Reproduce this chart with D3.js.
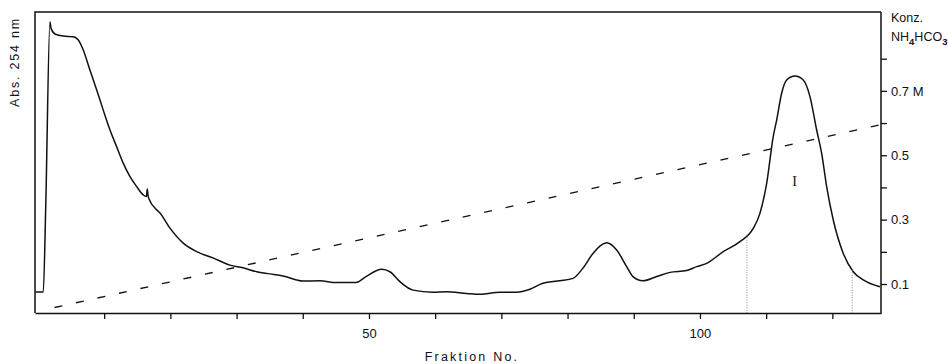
<!DOCTYPE html>
<html>
<head>
<meta charset="utf-8">
<script src="https://cdn.jsdelivr.net/npm/d3@7"></script>
<style>
  body { margin: 0; background: #fff; }
  svg { display: block; font-family: "Liberation Sans", Arial, sans-serif; }
</style>
</head>
<body>
<div id="chart"></div>
<script>
// absorbance trace (fraction no., Abs. 254 nm in arbitrary units)
const fraction = [
  -0.39, 0.80, 1.16, 1.81, 1.96, 2.57, 3.82, 5.33, 6.09, 6.84, 7.85, 8.87, 9.86,
  10.88, 11.89, 12.89, 13.90, 14.91, 15.91, 16.39, 16.51, 16.62, 16.92, 17.67,
  18.43, 19.94, 21.90, 23.97, 26.44, 29.00, 30.97, 33.04, 35.05, 37.01, 40.03,
  42.60, 45.02, 48.04, 49.55, 51.92, 53.17, 54.68, 56.65, 59.67, 61.74, 64.76,
  66.77, 69.79, 72.31, 74.32, 76.28, 78.85, 80.82, 82.33, 83.84, 85.91, 87.42,
  88.93, 89.88, 91.39, 93.46, 95.47, 97.99, 99.50, 101.01, 103.52, 106.04,
  108.05, 109.06, 110.08, 111.07, 111.59, 112.34, 113.10, 114.35, 115.60,
  116.62, 117.63, 118.38, 119.14, 120.14, 121.65, 123.16, 124.67, 127.19
];
const absorbance = [
  0.070, 0.070, 0.342, 0.968, 0.947, 0.927, 0.920, 0.918, 0.907, 0.874, 0.807, 0.741, 0.674,
  0.608, 0.552, 0.497, 0.453, 0.420, 0.392, 0.387, 0.412, 0.392, 0.372, 0.349,
  0.332, 0.282, 0.233, 0.204, 0.183, 0.159, 0.150, 0.137, 0.130, 0.123, 0.106,
  0.107, 0.101, 0.101, 0.121, 0.145, 0.137, 0.104, 0.076, 0.069, 0.071, 0.065,
  0.062, 0.069, 0.069, 0.079, 0.099, 0.107, 0.115, 0.149, 0.198, 0.233, 0.209,
  0.154, 0.121, 0.107, 0.121, 0.135, 0.141, 0.154, 0.165, 0.204, 0.237,
  0.281, 0.331, 0.431, 0.586, 0.641, 0.730, 0.774, 0.787, 0.774,
  0.719, 0.608, 0.531, 0.420, 0.309, 0.198, 0.137, 0.110, 0.087
];

// NH4HCO3 gradient (dashed line)
const gradientFraction = [2.5, 127.3];
const gradientConc = [0.027, 0.595];

// pooled region of peak I
const poolCuts = [107.1, 123.0];
const peakLabel = [{ fraction: 114.3, abs: 0.438, text: "I" }];

const xTicks = [10, 20, 30, 40, 50, 60, 70, 80, 90, 100, 110, 120];
const xLabels = [50, 100];
const concTicks = [0.1, 0.2, 0.3, 0.4, 0.5, 0.6, 0.7, 0.8];
const concLabels = { 0.1: "0.1", 0.3: "0.3", 0.5: "0.5", 0.7: "0.7 M" };

const W = 948, H = 364;
const margin = { top: 12, right: 67, bottom: 51, left: 35 };
const width = W - margin.left - margin.right;
const height = H - margin.top - margin.bottom;

const svg = d3.select("#chart").append("svg")
  .attr("width", W).attr("height", H);
const g = svg.append("g").attr("transform", `translate(${margin.left},${margin.top})`);

const x = d3.scaleLinear().domain([-0.45, 127.35]).range([0, width]);
const yAbs = d3.scaleLinear().domain([0, 1]).range([height, 0]);
const yConc = d3.scaleLinear().domain([0, 0.945]).range([height + 3.2, 0]);

// frame: left and top edges
g.append("path")
  .attr("d", `M0,${height}V0H${width}`)
  .attr("fill", "none").attr("stroke", "#111").attr("stroke-width", 1.5);

// bottom axis
const xAxis = g.append("g")
  .attr("transform", `translate(0,${height})`)
  .call(d3.axisBottom(x).tickValues(xTicks).tickSize(6).tickSizeOuter(0)
    .tickFormat(d => xLabels.includes(d) ? d : ""));
xAxis.select(".domain").attr("stroke", "#111").attr("stroke-width", 1.5);
xAxis.selectAll(".tick line").attr("stroke", "#111").attr("stroke-width", 1.3);
xAxis.selectAll(".tick text").attr("font-size", 13).attr("dy", "1.2em")
  .attr("fill", "#111").attr("font-family", "Liberation Sans, Arial, sans-serif");

// right axis (concentration)
const rAxis = g.append("g")
  .attr("transform", `translate(${width},0)`)
  .call(d3.axisRight(yConc).tickValues(concTicks).tickSize(6).tickSizeOuter(0)
    .tickFormat(d => concLabels[d] || ""));
rAxis.select(".domain").attr("d", `M0,0V${height}`)
  .attr("stroke", "#111").attr("stroke-width", 1.5);
rAxis.selectAll(".tick line").attr("stroke", "#111").attr("stroke-width", 1.3);
rAxis.selectAll(".tick text").attr("font-size", 13).attr("x", 10)
  .attr("fill", "#111").attr("font-family", "Liberation Sans, Arial, sans-serif");

// axis titles
svg.append("text")
  .attr("x", (margin.left + width / 2) + 14).attr("y", H - 3)
  .attr("text-anchor", "middle").attr("font-size", 12.5)
  .attr("letter-spacing", 2.2).attr("fill", "#111")
  .text("Fraktion No.");

svg.append("text")
  .attr("transform", "translate(19,62) rotate(-90)")
  .attr("text-anchor", "middle").attr("font-size", 12.5)
  .attr("letter-spacing", 1.8).attr("fill", "#111")
  .text("Abs. 254 nm");

const rx = margin.left + width + 10;
svg.append("text").attr("x", rx).attr("y", 22)
  .attr("font-size", 12.5).attr("fill", "#111").text("Konz.");
const nh = svg.append("text").attr("x", rx).attr("y", 41)
  .attr("font-size", 12.5).attr("fill", "#111");
nh.append("tspan").text("NH");
nh.append("tspan").attr("dy", 4).attr("font-size", 9.5).attr("font-weight", "bold").text("4");
nh.append("tspan").attr("dy", -4).text("HCO");
nh.append("tspan").attr("dy", 4).attr("font-size", 9.5).attr("font-weight", "bold").text("3");

// gradient line
const gradData = gradientFraction.map((f, i) => ({ f, c: gradientConc[i] }));
g.append("path")
  .datum(gradData)
  .attr("d", d3.line().x(d => x(d.f)).y(d => yConc(d.c)))
  .attr("fill", "none").attr("stroke", "#111").attr("stroke-width", 1.3)
  .attr("stroke-dasharray", "8,14");

// absorbance trace
const trace = fraction.map((f, i) => ({ f, a: absorbance[i] }));
g.append("path")
  .datum(trace)
  .attr("d", d3.line().x(d => x(d.f)).y(d => yAbs(d.a)).curve(d3.curveMonotoneX))
  .attr("fill", "none").attr("stroke", "#111").attr("stroke-width", 1.5);

// pool cut lines, from the trace down to the baseline
const bis = d3.bisector(d => d.f).left;
function absAt(f) {
  const i = bis(trace, f);
  const a = trace[i - 1], b = trace[i];
  return a.a + (b.a - a.a) * (f - a.f) / (b.f - a.f);
}
g.selectAll(".cut")
  .data(poolCuts)
  .join("line")
  .attr("class", "cut")
  .attr("x1", d => x(d)).attr("x2", d => x(d))
  .attr("y1", d => yAbs(absAt(d))).attr("y2", height)
  .attr("stroke", "#888").attr("stroke-width", 1)
  .attr("stroke-dasharray", "1,1.5");

g.selectAll(".peak")
  .data(peakLabel)
  .join("text")
  .attr("class", "peak")
  .attr("x", d => x(d.fraction)).attr("y", d => yAbs(d.abs))
  .attr("text-anchor", "middle").attr("dy", "0.35em")
  .attr("font-family", "Liberation Serif, serif").attr("font-size", 14)
  .attr("fill", "#111")
  .text(d => d.text);
</script>
</body>
</html>
